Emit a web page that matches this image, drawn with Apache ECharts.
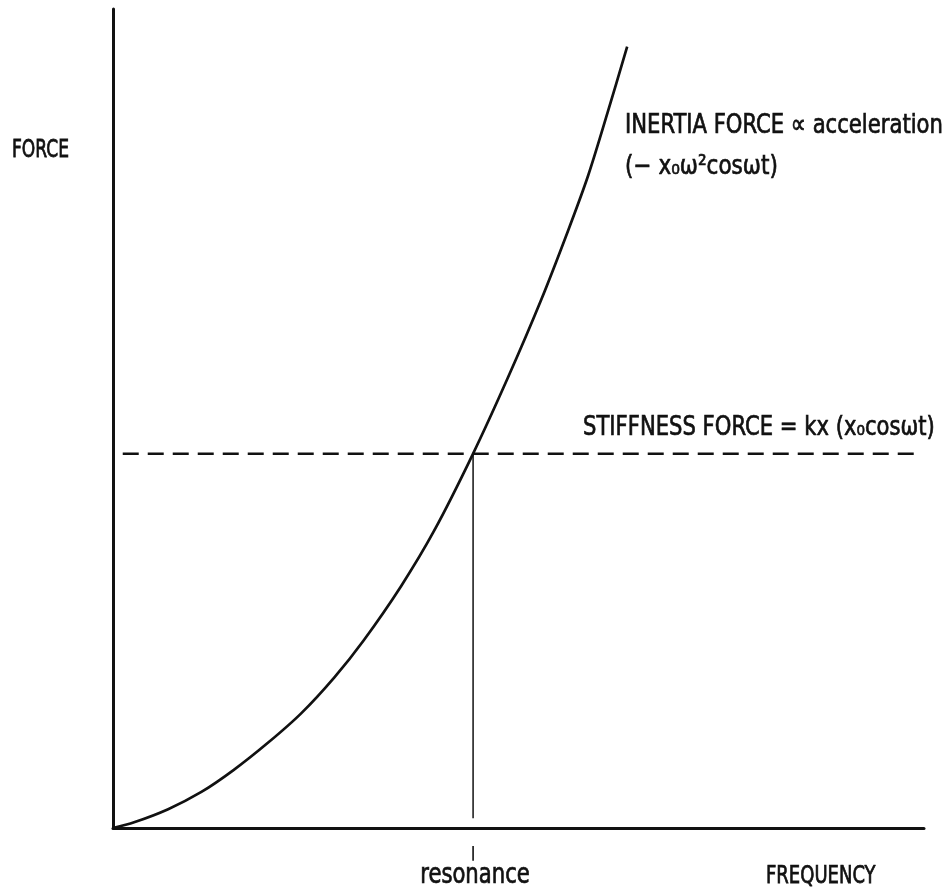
<!DOCTYPE html>
<html>
<head>
<meta charset="utf-8">
<script src="https://cdn.jsdelivr.net/npm/echarts@6/dist/echarts.min.js"></script>
<style>html,body{margin:0;padding:0;background:#fff}#c{width:952px;height:892px}</style>
</head>
<body>
<div id="c"></div>
<script>
// Inertia force curve (frequency, force)
const inertiaCurve = [
  [0, 0], [0.26, 0.07], [0.68, 0.23], [1.09, 0.44], [1.49, 0.71],
  [1.91, 1.04], [2.32, 1.40], [2.73, 1.84], [3.09, 2.29], [3.55, 2.95],
  [3.96, 3.63], [4.43, 4.55], [4.87, 5.50], [5.28, 6.45], [5.61, 7.29],
  [5.86, 7.97], [6.10, 8.74], [6.34, 9.54]
];
// Stiffness force level (constant) and its x extent
const stiffnessLevel = 4.57;
const stiffnessRange = [0.12, 9.94];
// Resonance frequency and vertical drop line
const resonanceX = 4.44;
const resonanceDrop = [4.57, 0.12];
const resonanceTick = [-0.22, -0.40];
// Axis ranges
const xRange = [0, 10];
const yRange = [0, 10];
// Texts
const yTitle = 'FORCE';
const xTitle = 'FREQUENCY';
const resonanceLabel = 'resonance';
const inertiaLabel1 = 'INERTIA FORCE \u221D acceleration';
const inertiaLabel2 = '(\u2212 x\u2080\u03C9\u00B2cos\u03C9t)';
const stiffnessLabel = 'STIFFNESS FORCE = kx (x\u2080cos\u03C9t)';

const FONT = '"DejaVu Sans Condensed", "DejaVu Sans", sans-serif';
const INK = '#111';

const chart = echarts.init(document.getElementById('c'), null, {renderer: 'canvas'});

function txt(text, x, y, size, sy, align) {
  return {
    type: 'text', x: x, y: y, scaleY: sy,
    style: {
      text: text, fill: INK, stroke: INK, lineWidth: 0.6,
      font: size + 'px ' + FONT, textAlign: align || 'left', textVerticalAlign: 'middle'
    }
  };
}

chart.setOption({
  animation: false,
  backgroundColor: '#fff',
  grid: {left: 113, right: 28, top: 9, bottom: 64, containLabel: false},
  xAxis: {
    type: 'value', min: xRange[0], max: xRange[1],
    axisLine: {show: true, onZero: false, lineStyle: {color: INK, width: 3}},
    axisTick: {show: false}, axisLabel: {show: false}, splitLine: {show: false}
  },
  yAxis: {
    type: 'value', min: yRange[0], max: yRange[1],
    axisLine: {show: true, onZero: false, lineStyle: {color: INK, width: 3}},
    axisTick: {show: false}, axisLabel: {show: false}, splitLine: {show: false}
  },
  series: [
    {
      type: 'line', data: inertiaCurve, smooth: 0.3, symbol: 'none',
      lineStyle: {color: INK, width: 2.7}, z: 3
    },
    {
      type: 'line', data: [[stiffnessRange[0], stiffnessLevel], [stiffnessRange[1], stiffnessLevel]],
      symbol: 'none', lineStyle: {color: INK, width: 2.6, type: [16, 9]}, z: 2
    },
    {
      type: 'line', data: [[resonanceX, resonanceDrop[0]], [resonanceX, resonanceDrop[1]]],
      symbol: 'none', lineStyle: {color: INK, width: 1.5}, z: 2
    },
    {
      type: 'line', clip: false, data: [[resonanceX, resonanceTick[0]], [resonanceX, resonanceTick[1]]],
      symbol: 'none', lineStyle: {color: INK, width: 1.6}, z: 2
    }
  ],
  graphic: [
    txt(yTitle, 12, 151, 19, 1.3),
    txt(xTitle, 766, 876, 20, 1.25),
    txt(resonanceLabel, 475, 876, 23.5, 1.2, 'center'),
    txt(inertiaLabel1, 625, 126, 23.5, 1.15),
    txt(inertiaLabel2, 625, 167, 24, 1.1),
    txt(stiffnessLabel, 583, 428, 23.5, 1.12)
  ]
});
</script>
</body>
</html>
